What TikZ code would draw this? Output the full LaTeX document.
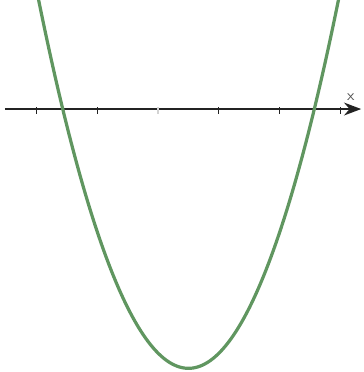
\documentclass[tikz,border=0pt]{standalone}
\usepackage{tikz}
\usetikzlibrary{arrows.meta,positioning}

\definecolor{plotgreen}{RGB}{96,150,96}
\definecolor{axisgray}{RGB}{35,35,35}

\begin{document}
\begin{tikzpicture}[
    axis/.style={draw=axisgray, line width=1pt, -{Stealth[length=8pt,width=6pt]}},
    tick/.style={draw=axisgray, line width=0.6pt},
    curve/.style={draw=plotgreen, line width=1.5pt},
    axlabel/.style={font=\sffamily\scriptsize, text=axisgray!80, inner sep=0pt}
  ]
  \useasboundingbox (-2.59,-4.31) rectangle (3.36,1.787);

  % x-axis
  \coordinate (xstart) at (-2.51,0);
  \coordinate (xend)   at (3.33,0);
  \draw[axis] (xstart) -- (xend);
  \node[axlabel] (xlab) at (3.16,0.2) {x};

  % ticks
  \foreach \t in {-2,-1,1,2,3}
    \draw[tick] (\t*0.995,0.03) -- (\t*0.995,-0.08);
  \draw[tick, draw=axisgray!20] (0,0.03) -- (0,-0.08);

  % f(x) = x^2 - x - 4
  \begin{scope}
    \clip (-2.59,-4.31) rectangle (3.36,1.787);
    \draw[curve, domain=-2.05:3.05, samples=120, smooth]
      plot (\x, {\x*\x - \x - 4});
  \end{scope}
\end{tikzpicture}
\end{document}
